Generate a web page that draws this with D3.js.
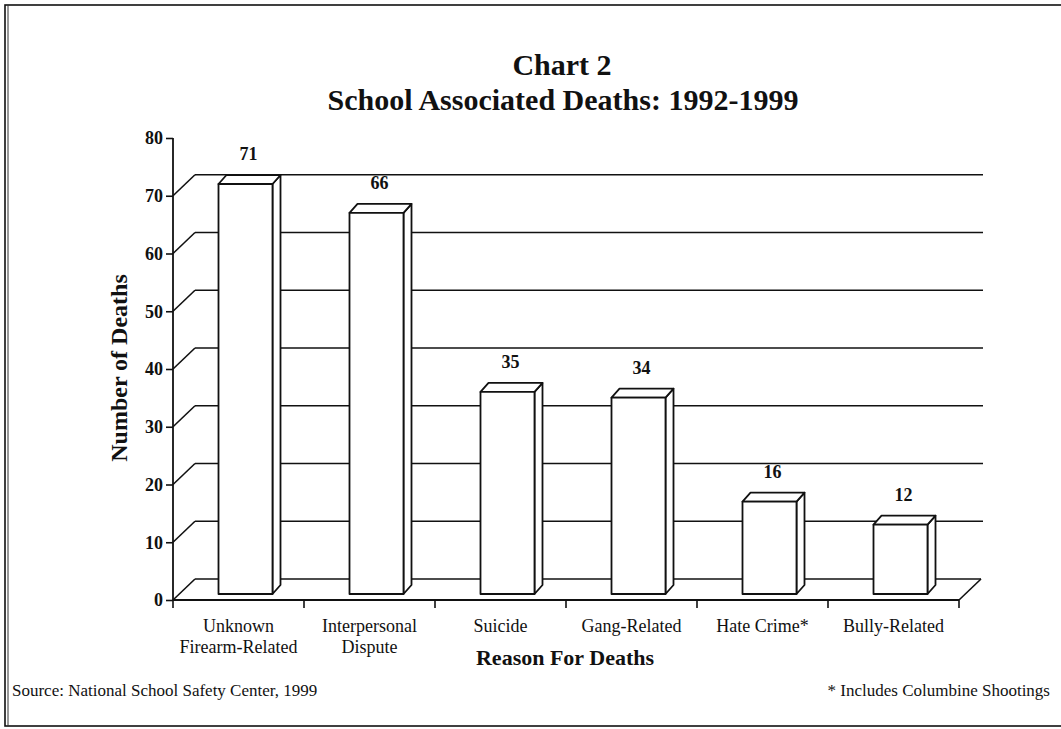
<!DOCTYPE html>
<html><head><meta charset="utf-8">
<script src="https://cdn.jsdelivr.net/npm/d3@7"></script>
<style>body{margin:0;background:#fff}svg{display:block}</style>
</head><body><svg id="c" width="1061" height="729"></svg>
<script>
// ---- data ----
const categories = ["Unknown Firearm-Related","Interpersonal Dispute","Suicide","Gang-Related","Hate Crime*","Bully-Related"];
const categoryLines = [["Unknown","Firearm-Related"],["Interpersonal","Dispute"],["Suicide"],["Gang-Related"],["Hate Crime*"],["Bully-Related"]];
const deaths = [71,66,35,34,16,12];
const yTicks = [0,10,20,30,40,50,60,70,80];
const gridValues = [0,10,20,30,40,50,60,70];
const titleLines = ["Chart 2","School Associated Deaths: 1992-1999"];
const yTitle = "Number of Deaths";
const xTitle = "Reason For Deaths";
const sourceNote = "Source: National School Safety Center, 1999";
const footNote = "* Includes Columbine Shootings";

// ---- layout ----
const W = 1061, H = 729;
const serif = "'Liberation Serif','Times New Roman',serif";
const svg = d3.select("#c");
const x = d3.scaleBand().domain(categories).range([173, 959]).padding(0);
const y = d3.scaleLinear().domain([0, 80]).range([600, 138]);
const DX = 22, DY = -21;          // depth of the 3D box
const barOff = [7, -6];           // bar front face offset into the box
const barDepth = [8, -9];
const barW = 54;

// frame
svg.append("rect").attr("x",5).attr("y",5).attr("width",W+10).attr("height",721)
  .attr("fill","none").attr("stroke","#111").attr("stroke-width",1.6);
svg.append("line").attr("x1",8).attr("x2",8).attr("y1",5).attr("y2",726)
  .attr("stroke","#333").attr("stroke-width",1);

// back wall grid lines
const g = svg.append("g").attr("stroke","#111").attr("stroke-width",1.6).attr("fill","none");
g.selectAll("line.grid").data(gridValues.filter(v=>v>0)).join("line")
  .attr("x1", 173+DX).attr("x2", 983)
  .attr("y1", d=>y(d)+DY).attr("y2", d=>y(d)+DY);
// left wall diagonals
g.selectAll("line.diag").data(gridValues).join("line")
  .attr("x1",173).attr("y1",d=>y(d)).attr("x2",173+DX).attr("y2",d=>y(d)+DY);
// floor back edge and right diagonal
g.append("line").attr("x1",173+DX).attr("x2",959+DX).attr("y1",y(0)+DY).attr("y2",y(0)+DY);
g.append("line").attr("x1",959).attr("y1",y(0)).attr("x2",959+DX).attr("y2",y(0)+DY);

// y axis
const yAxis = d3.axisLeft(y).tickValues(yTicks).tickSize(7).tickPadding(3).tickFormat(d3.format("d"));
const ya = svg.append("g").attr("transform","translate(173,0)").call(yAxis);
ya.select(".domain").attr("stroke","#111").attr("stroke-width",1.8).attr("d","M0,138V600");
ya.selectAll(".tick line").attr("stroke","#111").attr("stroke-width",1.6);
ya.selectAll(".tick text").attr("font-family",serif).attr("font-weight","bold")
  .attr("font-size",18).attr("fill","#111");

// x axis
const xa = svg.append("g").attr("transform","translate(0,600)");
xa.append("line").attr("x1",173).attr("x2",959).attr("y1",0).attr("y2",0)
  .attr("stroke","#111").attr("stroke-width",1.8);
const edges = categories.map(c=>x(c)).concat([x.range()[1]]);
xa.selectAll("line.tk").data(edges).join("line")
  .attr("x1",d=>d).attr("x2",d=>d).attr("y1",0).attr("y2",8)
  .attr("stroke","#111").attr("stroke-width",1.6);

// bars
const bars = svg.append("g");
categories.forEach((c,i)=>{
  const v = deaths[i];
  const x0 = x(c) + (x.bandwidth()-barW)/2 + barOff[0];
  const yb = y(0) + barOff[1];
  const yt = y(v) + barOff[1];
  const x1 = x0 + barW;
  const [ddx, ddy] = barDepth;
  const bg = bars.append("g").attr("stroke","#111").attr("stroke-width",1.8)
    .attr("stroke-linejoin","round").attr("fill","#fff");
  // side
  bg.append("path").attr("d",`M${x1},${yt}L${x1+ddx},${yt+ddy}L${x1+ddx},${yb+ddy}L${x1},${yb}Z`);
  // top
  bg.append("path").attr("d",`M${x0},${yt}L${x0+ddx},${yt+ddy}L${x1+ddx},${yt+ddy}L${x1},${yt}Z`);
  // front
  bg.append("rect").attr("x",x0).attr("y",yt).attr("width",barW).attr("height",yb-yt);
  // value label
  bars.append("text").attr("x",x0+barW/2+ddx/2-1).attr("y",yt-24)
    .attr("text-anchor","middle").attr("font-family",serif).attr("font-weight","bold")
    .attr("font-size",18).attr("fill","#111").text(v);
});

// category labels
const cl = svg.append("g").attr("font-family",serif).attr("font-size",18).attr("fill","#111").attr("text-anchor","middle");
categories.forEach((c,i)=>{
  categoryLines[i].forEach((ln,j)=>{
    cl.append("text").attr("x",x(c)+x.bandwidth()/2).attr("y",632+j*21).text(ln);
  });
});

// titles
svg.append("text").attr("x",562).attr("y",75).attr("text-anchor","middle")
  .attr("font-family",serif).attr("font-weight","bold").attr("font-size",30).attr("fill","#111").text(titleLines[0]);
svg.append("text").attr("x",563).attr("y",110).attr("text-anchor","middle")
  .attr("font-family",serif).attr("font-weight","bold").attr("font-size",30).attr("fill","#111").text(titleLines[1]);
svg.append("text").attr("transform","translate(127,368) rotate(-90)").attr("text-anchor","middle")
  .attr("font-family",serif).attr("font-weight","bold").attr("font-size",24).attr("fill","#111").text(yTitle);
svg.append("text").attr("x",565).attr("y",665).attr("text-anchor","middle")
  .attr("font-family",serif).attr("font-weight","bold").attr("font-size",22).attr("fill","#111").text(xTitle);

// footer
svg.append("text").attr("x",12).attr("y",696).attr("font-family",serif).attr("font-size",17).attr("fill","#111").text(sourceNote);
svg.append("text").attr("x",1050).attr("y",696).attr("text-anchor","end").attr("font-family",serif).attr("font-size",17).attr("fill","#111").text(footNote);
</script></body></html>
